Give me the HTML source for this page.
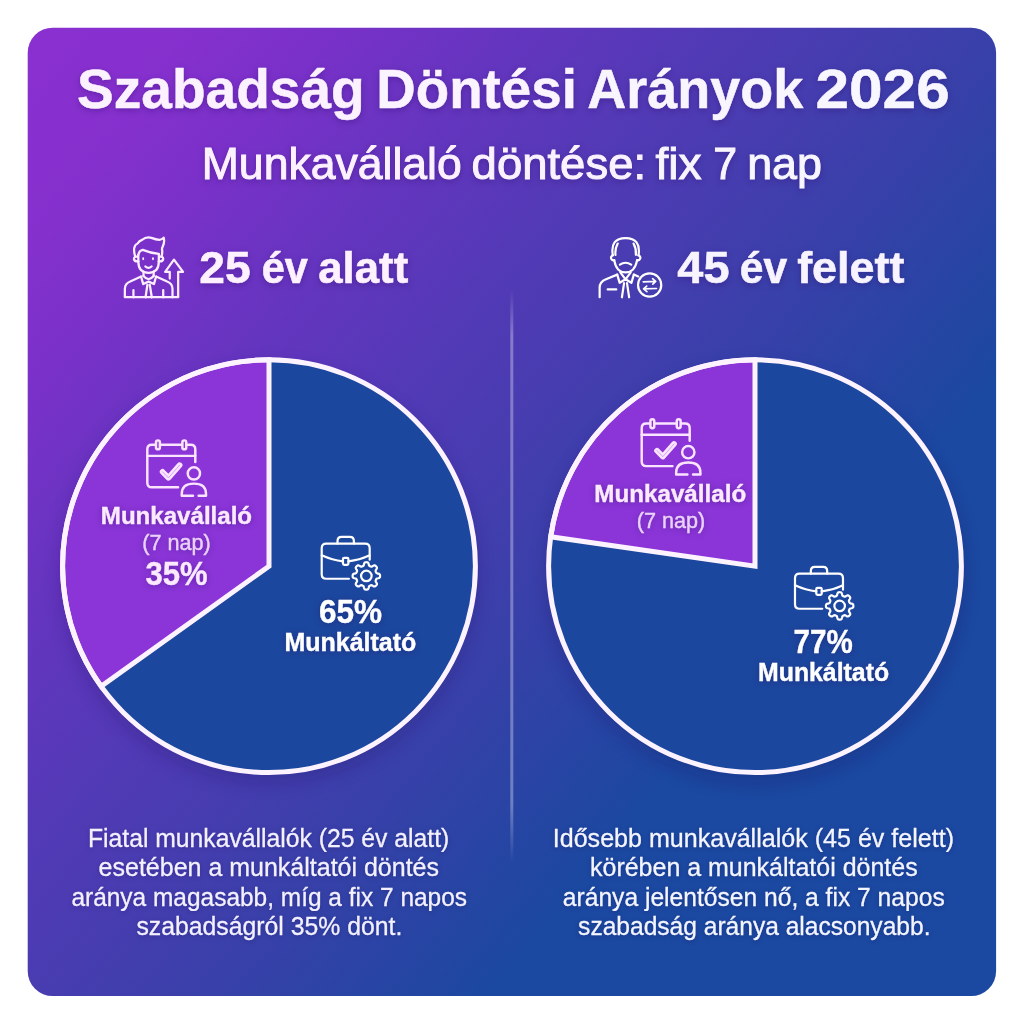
<!DOCTYPE html>
<html lang="hu">
<head>
<meta charset="utf-8">
<title>Szabadság Döntési Arányok 2026</title>
<style>
html,body{margin:0;padding:0;background:#ffffff;}
body{width:1024px;height:1024px;overflow:hidden;position:relative;}
svg{position:absolute;left:0;top:0;display:block;}
text{font-family:"Liberation Sans",Arial,sans-serif;}
.s1{filter:drop-shadow(0px 2px 3px rgba(45,10,110,0.38));}
.s2{filter:drop-shadow(0px 1px 3px rgba(30,10,90,0.35));}
.s3{filter:drop-shadow(0px 1px 2px rgba(20,10,90,0.30));}
</style>
</head>
<body>
<svg width="1024" height="1024" viewBox="0 0 1024 1024">
<defs>
<linearGradient id="bg" gradientUnits="userSpaceOnUse" x1="28" y1="28" x2="1081.4" y2="891.8">
<stop offset="0" stop-color="#8a30d0"/>
<stop offset="0.09" stop-color="#8630ce"/>
<stop offset="0.18" stop-color="#7831c8"/>
<stop offset="0.273" stop-color="#6535bf"/>
<stop offset="0.366" stop-color="#5539b7"/>
<stop offset="0.45" stop-color="#493cb1"/>
<stop offset="0.55" stop-color="#3940a9"/>
<stop offset="0.712" stop-color="#1b48a0"/>
<stop offset="1" stop-color="#1b48a0"/>
</linearGradient>
<linearGradient id="dv" x1="0" y1="0" x2="0" y2="1">
<stop offset="0" stop-color="#ffffff" stop-opacity="0"/>
<stop offset="0.08" stop-color="#ffffff" stop-opacity="0.32"/>
<stop offset="0.9" stop-color="#ffffff" stop-opacity="0.32"/>
<stop offset="1" stop-color="#ffffff" stop-opacity="0"/>
</linearGradient>
<filter id="psh" x="-20%" y="-20%" width="140%" height="140%">
<feGaussianBlur stdDeviation="9"/>
</filter>
</defs>
<rect x="27.7" y="27.7" width="968.4" height="968.4" rx="25" ry="25" fill="url(#bg)"/>
<rect x="510.3" y="290" width="3" height="572" fill="url(#dv)"/>

<circle cx="269" cy="574.2" r="208.4" fill="#1a1060" opacity="0.25" filter="url(#psh)"/>
<circle cx="269" cy="566.2" r="206.4" fill="#1c479e"/>
<path d="M269,566.2 L269,359.80000000000007 A206.4,206.4 0 0 0 101.18,686.35 Z" fill="#8b35d8" stroke="#fdf3ff" stroke-width="5" stroke-linejoin="miter"/>
<circle cx="269" cy="566.2" r="206.4" fill="none" stroke="#fdf3ff" stroke-width="5"/>
<circle cx="755" cy="574.2" r="208.4" fill="#1a1060" opacity="0.25" filter="url(#psh)"/>
<circle cx="755" cy="566.2" r="206.4" fill="#1c479e"/>
<path d="M755,566.2 L755,359.80000000000007 A206.4,206.4 0 0 0 550.71,536.76 Z" fill="#8b35d8" stroke="#fdf3ff" stroke-width="5" stroke-linejoin="miter"/>
<circle cx="755" cy="566.2" r="206.4" fill="none" stroke="#fdf3ff" stroke-width="5"/>
<g transform="translate(90,420) scale(0.17578)"><g fill="none" stroke="#fbe4ff" stroke-width="14" stroke-linecap="round" stroke-linejoin="round">
<path d="M501,383 L352,383 Q326,383 326,357 L326,167 Q326,141 352,141 L573,141 Q599,141 599,167 L599,239"/>
<path d="M326,204 L599,204"/>
<rect x="375.5" y="116" width="22" height="51" rx="11" fill="#8b35d8"/>
<rect x="525.5" y="116" width="22" height="51" rx="11" fill="#8b35d8"/>
<path d="M413,295 L446,329 L510,257" stroke-width="32"/>
<path d="M413,295 L446,329 L510,257" stroke="#8b35d8" stroke-width="2.5" stroke-opacity="0.85"/>
<circle cx="591" cy="304" r="35"/>
<path d="M586,431 L522,431 L522,420 Q522,362 591,362 Q660,362 660,420 L660,431 L618,431"/>
</g></g>
<g transform="translate(584.4,398.8) scale(0.17578)"><g fill="none" stroke="#fbe4ff" stroke-width="14" stroke-linecap="round" stroke-linejoin="round">
<path d="M501,383 L352,383 Q326,383 326,357 L326,167 Q326,141 352,141 L573,141 Q599,141 599,167 L599,239"/>
<path d="M326,204 L599,204"/>
<rect x="375.5" y="116" width="22" height="51" rx="11" fill="#8b35d8"/>
<rect x="525.5" y="116" width="22" height="51" rx="11" fill="#8b35d8"/>
<path d="M413,295 L446,329 L510,257" stroke-width="32"/>
<path d="M413,295 L446,329 L510,257" stroke="#8b35d8" stroke-width="2.5" stroke-opacity="0.85"/>
<circle cx="591" cy="304" r="35"/>
<path d="M586,431 L522,431 L522,420 Q522,362 591,362 Q660,362 660,420 L660,431 L618,431"/>
</g></g>
<g transform="translate(260,510) scale(0.17578)"><g fill="none" stroke="#ffffff" stroke-width="12.5" stroke-linecap="round" stroke-linejoin="round">
<path d="M506,391 L377,391 Q351,391 351,365 L351,217 Q351,191 377,191 L598,191 Q624,191 624,217 L624,283"/>
<path d="M441,191 L441,176 Q441,153 464,153 L511,153 Q534,153 534,176 L534,191"/>
<path d="M351,258 Q412,286 472,292"/>
<path d="M503,292 Q565,286 624,258"/>
<rect x="472" y="272" width="31" height="40" rx="7"/>
<path d="M605.0,297.0 L608.1,297.1 L611.1,297.6 L614.0,298.9 L616.6,302.0 L618.4,307.8 L619.7,313.7 L621.4,316.9 L623.4,318.5 L625.4,319.6 L627.6,320.5 L629.7,321.4 L632.0,322.1 L634.5,322.3 L638.0,321.2 L643.1,318.0 L648.4,315.2 L652.4,314.8 L655.4,316.0 L657.9,317.8 L660.2,319.8 L662.2,322.1 L664.0,324.6 L665.2,327.6 L664.8,331.6 L662.0,336.9 L658.8,342.0 L657.7,345.5 L657.9,348.0 L658.6,350.3 L659.5,352.4 L660.4,354.6 L661.5,356.6 L663.1,358.6 L666.3,360.3 L672.2,361.6 L678.0,363.4 L681.1,366.0 L682.4,368.9 L682.9,371.9 L683.0,375.0 L682.9,378.1 L682.4,381.1 L681.1,384.0 L678.0,386.6 L672.2,388.4 L666.3,389.7 L663.1,391.4 L661.5,393.4 L660.4,395.4 L659.5,397.6 L658.6,399.7 L657.9,402.0 L657.7,404.5 L658.8,408.0 L662.0,413.1 L664.8,418.4 L665.2,422.4 L664.0,425.4 L662.2,427.9 L660.2,430.2 L657.9,432.2 L655.4,434.0 L652.4,435.2 L648.4,434.8 L643.1,432.0 L638.0,428.8 L634.5,427.7 L632.0,427.9 L629.7,428.6 L627.6,429.5 L625.4,430.4 L623.4,431.5 L621.4,433.1 L619.7,436.3 L618.4,442.2 L616.6,448.0 L614.0,451.1 L611.1,452.4 L608.1,452.9 L605.0,453.0 L601.9,452.9 L598.9,452.4 L596.0,451.1 L593.4,448.0 L591.6,442.2 L590.3,436.3 L588.6,433.1 L586.6,431.5 L584.6,430.4 L582.4,429.5 L580.3,428.6 L578.0,427.9 L575.5,427.7 L572.0,428.8 L566.9,432.0 L561.6,434.8 L557.6,435.2 L554.6,434.0 L552.1,432.2 L549.8,430.2 L547.8,427.9 L546.0,425.4 L544.8,422.4 L545.2,418.4 L548.0,413.1 L551.2,408.0 L552.3,404.5 L552.1,402.0 L551.4,399.7 L550.5,397.6 L549.6,395.4 L548.5,393.4 L546.9,391.4 L543.7,389.7 L537.8,388.4 L532.0,386.6 L528.9,384.0 L527.6,381.1 L527.1,378.1 L527.0,375.0 L527.1,371.9 L527.6,368.9 L528.9,366.0 L532.0,363.4 L537.8,361.6 L543.7,360.3 L546.9,358.6 L548.5,356.6 L549.6,354.6 L550.5,352.4 L551.4,350.3 L552.1,348.0 L552.3,345.5 L551.2,342.0 L548.0,336.9 L545.2,331.6 L544.8,327.6 L546.0,324.6 L547.8,322.1 L549.8,319.8 L552.1,317.8 L554.6,316.0 L557.6,314.8 L561.6,315.2 L566.9,318.0 L572.0,321.2 L575.5,322.3 L578.0,322.1 L580.3,321.4 L582.4,320.5 L584.6,319.6 L586.6,318.5 L588.6,316.9 L590.3,313.7 L591.6,307.8 L593.4,302.0 L596.0,298.9 L598.9,297.6 L601.9,297.1 Z"/>
<circle cx="605" cy="375" r="30"/>
</g></g>
<g transform="translate(733.3,540) scale(0.17578)"><g fill="none" stroke="#ffffff" stroke-width="12.5" stroke-linecap="round" stroke-linejoin="round">
<path d="M506,391 L377,391 Q351,391 351,365 L351,217 Q351,191 377,191 L598,191 Q624,191 624,217 L624,283"/>
<path d="M441,191 L441,176 Q441,153 464,153 L511,153 Q534,153 534,176 L534,191"/>
<path d="M351,258 Q412,286 472,292"/>
<path d="M503,292 Q565,286 624,258"/>
<rect x="472" y="272" width="31" height="40" rx="7"/>
<path d="M605.0,297.0 L608.1,297.1 L611.1,297.6 L614.0,298.9 L616.6,302.0 L618.4,307.8 L619.7,313.7 L621.4,316.9 L623.4,318.5 L625.4,319.6 L627.6,320.5 L629.7,321.4 L632.0,322.1 L634.5,322.3 L638.0,321.2 L643.1,318.0 L648.4,315.2 L652.4,314.8 L655.4,316.0 L657.9,317.8 L660.2,319.8 L662.2,322.1 L664.0,324.6 L665.2,327.6 L664.8,331.6 L662.0,336.9 L658.8,342.0 L657.7,345.5 L657.9,348.0 L658.6,350.3 L659.5,352.4 L660.4,354.6 L661.5,356.6 L663.1,358.6 L666.3,360.3 L672.2,361.6 L678.0,363.4 L681.1,366.0 L682.4,368.9 L682.9,371.9 L683.0,375.0 L682.9,378.1 L682.4,381.1 L681.1,384.0 L678.0,386.6 L672.2,388.4 L666.3,389.7 L663.1,391.4 L661.5,393.4 L660.4,395.4 L659.5,397.6 L658.6,399.7 L657.9,402.0 L657.7,404.5 L658.8,408.0 L662.0,413.1 L664.8,418.4 L665.2,422.4 L664.0,425.4 L662.2,427.9 L660.2,430.2 L657.9,432.2 L655.4,434.0 L652.4,435.2 L648.4,434.8 L643.1,432.0 L638.0,428.8 L634.5,427.7 L632.0,427.9 L629.7,428.6 L627.6,429.5 L625.4,430.4 L623.4,431.5 L621.4,433.1 L619.7,436.3 L618.4,442.2 L616.6,448.0 L614.0,451.1 L611.1,452.4 L608.1,452.9 L605.0,453.0 L601.9,452.9 L598.9,452.4 L596.0,451.1 L593.4,448.0 L591.6,442.2 L590.3,436.3 L588.6,433.1 L586.6,431.5 L584.6,430.4 L582.4,429.5 L580.3,428.6 L578.0,427.9 L575.5,427.7 L572.0,428.8 L566.9,432.0 L561.6,434.8 L557.6,435.2 L554.6,434.0 L552.1,432.2 L549.8,430.2 L547.8,427.9 L546.0,425.4 L544.8,422.4 L545.2,418.4 L548.0,413.1 L551.2,408.0 L552.3,404.5 L552.1,402.0 L551.4,399.7 L550.5,397.6 L549.6,395.4 L548.5,393.4 L546.9,391.4 L543.7,389.7 L537.8,388.4 L532.0,386.6 L528.9,384.0 L527.6,381.1 L527.1,378.1 L527.0,375.0 L527.1,371.9 L527.6,368.9 L528.9,366.0 L532.0,363.4 L537.8,361.6 L543.7,360.3 L546.9,358.6 L548.5,356.6 L549.6,354.6 L550.5,352.4 L551.4,350.3 L552.1,348.0 L552.3,345.5 L551.2,342.0 L548.0,336.9 L545.2,331.6 L544.8,327.6 L546.0,324.6 L547.8,322.1 L549.8,319.8 L552.1,317.8 L554.6,316.0 L557.6,314.8 L561.6,315.2 L566.9,318.0 L572.0,321.2 L575.5,322.3 L578.0,322.1 L580.3,321.4 L582.4,320.5 L584.6,319.6 L586.6,318.5 L588.6,316.9 L590.3,313.7 L591.6,307.8 L593.4,302.0 L596.0,298.9 L598.9,297.6 L601.9,297.1 Z"/>
<circle cx="605" cy="375" r="30"/>
</g></g>
<g transform="translate(110,225) scale(0.09766)"><g fill="none" stroke="#fdeeff" stroke-width="23" stroke-linecap="round" stroke-linejoin="round">
<path d="M152,738 L698,738"/>
<path d="M152,738 L152,655 Q152,600 207,578 L318,528"/>
<path d="M472,528 L585,578 Q640,600 640,655 L640,740"/>
<path d="M240,740 L240,668 M545,740 L545,668"/>
<path d="M343,478 L343,522 M447,478 L447,522"/>
<path d="M318,528 L340,605 L395,580 L450,605 L472,528"/>
<path d="M343,522 Q395,585 447,522"/>
<path d="M383,612 L364,740 M407,612 L428,740"/>
<path d="M290,305 L290,375 Q290,490 395,490 Q500,490 500,375 L500,300"/>
<path d="M290,305 Q300,262 335,255 Q420,290 500,295"/>
<path d="M258,322 Q240,262 250,228 Q262,195 280,192 Q300,160 328,152 Q370,118 425,132 Q470,150 505,152 Q535,150 550,130 Q562,175 540,222 Q528,240 535,262 Q536,295 528,322"/>
<path d="M285,325 Q245,320 245,348 Q250,378 292,372"/>
<path d="M505,325 Q545,320 545,348 Q540,378 498,372"/>
<path d="M362,425 Q393,452 426,425"/>
<path d="M612,548 L612,480 L565,480 L655,355 L748,480 L698,480 L698,738"/>
</g>
<ellipse cx="340" cy="345" rx="10" ry="15" fill="#fdeeff"/>
<ellipse cx="440" cy="345" rx="10" ry="15" fill="#fdeeff"/></g>
<g transform="translate(585,225) scale(0.09766)"><g fill="none" stroke="#ffffff" stroke-width="22.5" stroke-linecap="round" stroke-linejoin="round">
<path d="M285,310 Q255,135 415,135 Q575,135 548,310"/>
<path d="M285,310 Q258,322 270,348 Q280,366 300,360"/>
<path d="M548,310 Q575,322 563,348 Q553,366 533,360"/>
<path d="M300,362 Q320,485 415,485 Q510,485 533,362"/>
<path d="M335,190 Q305,245 312,305"/>
<path d="M497,190 Q527,245 521,305"/>
<path d="M357,405 Q415,368 473,405"/>
<path d="M150,740 L150,640 Q150,580 215,555 L330,508"/>
<path d="M500,508 L545,527"/>
<path d="M330,508 L355,592 L415,556 L475,592 L500,508"/>
<path d="M362,485 L415,556 L468,485"/>
<path d="M400,596 L378,740 M430,596 L452,740"/>
<path d="M232,660 L320,660"/>
<circle cx="662" cy="614" r="119"/>
</g>
<g fill="none" stroke="#ffffff" stroke-width="17" stroke-linecap="round" stroke-linejoin="round">
<path d="M596,582 L722,578 M692,550 L724,578 L694,606"/>
<path d="M732,650 L600,654 M632,626 L600,654 L634,682"/>
</g></g>
<text class="s1" y="107.9" font-size="56" font-weight="bold" fill="#fcf2ff" stroke="#fcf2ff" stroke-width="0.5"><tspan x="77.0" textLength="287.71" lengthAdjust="spacingAndGlyphs" fill="#fcf2ff" stroke="#fcf2ff">Szabadság</tspan> <tspan x="376.29" textLength="200.62" lengthAdjust="spacingAndGlyphs" fill="#fbf3ff" stroke="#fbf3ff">Döntési</tspan> <tspan x="587.19" textLength="216.0" lengthAdjust="spacingAndGlyphs" fill="#f9f5ff" stroke="#f9f5ff">Arányok</tspan> <tspan x="815.58" textLength="134.09" lengthAdjust="spacingAndGlyphs" fill="#f8f6ff" stroke="#f8f6ff">2026</tspan></text>
<text class="s1" y="178.8" font-size="44.5" font-weight="normal" fill="#fcf1ff" stroke="#fcf1ff" stroke-width="1.0"><tspan x="201.78" textLength="259.98" lengthAdjust="spacingAndGlyphs" fill="#fcf1ff" stroke="#fcf1ff">Munkavállaló</tspan> <tspan x="471.62" textLength="174.47" lengthAdjust="spacingAndGlyphs" fill="#faf3ff" stroke="#faf3ff">döntése:</tspan> <tspan x="655.58" textLength="46.01" lengthAdjust="spacingAndGlyphs" fill="#f9f5ff" stroke="#f9f5ff">fix</tspan> <tspan x="713.26" textLength="23.84" lengthAdjust="spacingAndGlyphs" fill="#f9f5ff" stroke="#f9f5ff">7</tspan> <tspan x="747.16" textLength="74.9" lengthAdjust="spacingAndGlyphs" fill="#f8f6ff" stroke="#f8f6ff">nap</tspan></text>
<text class="s1" y="282.9" font-size="45" font-weight="bold" fill="#fdf0ff" stroke="#fdf0ff" stroke-width="0.6"><tspan x="199.35" textLength="51.33" lengthAdjust="spacingAndGlyphs" fill="#fdf0ff" stroke="#fdf0ff">25</tspan> <tspan x="261.64" textLength="46.08" lengthAdjust="spacingAndGlyphs" fill="#fdf0ff" stroke="#fdf0ff">év</tspan> <tspan x="318.28" textLength="89.95" lengthAdjust="spacingAndGlyphs" fill="#fdf0ff" stroke="#fdf0ff">alatt</tspan></text>
<text class="s1" y="282.9" font-size="45" font-weight="bold" fill="#f7f3ff" stroke="#f7f3ff" stroke-width="0.6"><tspan x="677.39" textLength="52.11" lengthAdjust="spacingAndGlyphs" fill="#f7f3ff" stroke="#f7f3ff">45</tspan> <tspan x="739.74" textLength="47.38" lengthAdjust="spacingAndGlyphs" fill="#f7f3ff" stroke="#f7f3ff">év</tspan> <tspan x="797.15" textLength="107.25" lengthAdjust="spacingAndGlyphs" fill="#f7f3ff" stroke="#f7f3ff">felett</tspan></text>
<text class="s2" x="100.83" y="523.8" font-size="24.6" font-weight="bold" fill="#fbe9ff" stroke="#fbe9ff" stroke-width="0.4" textLength="151.23" lengthAdjust="spacingAndGlyphs">Munkavállaló</text>
<text class="s2" x="142.19" y="549.7" font-size="21.7" font-weight="normal" fill="#ecd2fb" stroke="#ecd2fb" stroke-width="0.4" textLength="68.45" lengthAdjust="spacingAndGlyphs">(7 nap)</text>
<text class="s2" x="145.43" y="585.4" font-size="34" font-weight="bold" fill="#fbe9ff" stroke="#fbe9ff" stroke-width="0.4" textLength="62.12" lengthAdjust="spacingAndGlyphs">35%</text>
<text class="s2" x="318.99" y="623.3" font-size="34" font-weight="bold" fill="#ffffff" stroke="#ffffff" stroke-width="0.4" textLength="63.16" lengthAdjust="spacingAndGlyphs">65%</text>
<text class="s2" x="284.42" y="650.8" font-size="25" font-weight="bold" fill="#ffffff" stroke="#ffffff" stroke-width="0.4" textLength="131.89" lengthAdjust="spacingAndGlyphs">Munkáltató</text>
<text class="s2" x="594.29" y="502.4" font-size="24.6" font-weight="bold" fill="#fbe9ff" stroke="#fbe9ff" stroke-width="0.4" textLength="151.94" lengthAdjust="spacingAndGlyphs">Munkavállaló</text>
<text class="s2" x="636.69" y="528.3" font-size="21.7" font-weight="normal" fill="#ecd2fb" stroke="#ecd2fb" stroke-width="0.4" textLength="68.4" lengthAdjust="spacingAndGlyphs">(7 nap)</text>
<text class="s2" x="793.53" y="653.3" font-size="34" font-weight="bold" fill="#ffffff" stroke="#ffffff" stroke-width="0.4" textLength="59.19" lengthAdjust="spacingAndGlyphs">77%</text>
<text class="s2" x="758.07" y="680.8" font-size="25" font-weight="bold" fill="#ffffff" stroke="#ffffff" stroke-width="0.4" textLength="131.0" lengthAdjust="spacingAndGlyphs">Munkáltató</text>
<text class="s3" x="87.98" y="846.6" font-size="25.2" font-weight="normal" fill="#f4f1ff" stroke="#f4f1ff" stroke-width="0.3" textLength="361.28" lengthAdjust="spacingAndGlyphs">Fiatal munkavállalók (25 év alatt)</text>
<text class="s3" x="98.62" y="876.2" font-size="25.2" font-weight="normal" fill="#f4f1ff" stroke="#f4f1ff" stroke-width="0.3" textLength="340.41" lengthAdjust="spacingAndGlyphs">esetében a munkáltatói döntés</text>
<text class="s3" x="71.4" y="905.6" font-size="25.2" font-weight="normal" fill="#f4f1ff" stroke="#f4f1ff" stroke-width="0.3" textLength="395.67" lengthAdjust="spacingAndGlyphs">aránya magasabb, míg a fix 7 napos</text>
<text class="s3" x="136.41" y="935.1" font-size="25.2" font-weight="normal" fill="#f4f1ff" stroke="#f4f1ff" stroke-width="0.3" textLength="265.86" lengthAdjust="spacingAndGlyphs">szabadságról 35% dönt.</text>
<text class="s3" x="552.78" y="846.6" font-size="25.2" font-weight="normal" fill="#f4f6ff" stroke="#f4f6ff" stroke-width="0.3" textLength="401.25" lengthAdjust="spacingAndGlyphs">Idősebb munkavállalók (45 év felett)</text>
<text class="s3" x="590.06" y="876.2" font-size="25.2" font-weight="normal" fill="#f4f6ff" stroke="#f4f6ff" stroke-width="0.3" textLength="327.61" lengthAdjust="spacingAndGlyphs">körében a munkáltatói döntés</text>
<text class="s3" x="562.8" y="905.6" font-size="25.2" font-weight="normal" fill="#f4f6ff" stroke="#f4f6ff" stroke-width="0.3" textLength="381.92" lengthAdjust="spacingAndGlyphs">aránya jelentősen nő, a fix 7 napos</text>
<text class="s3" x="578.1" y="935.1" font-size="25.2" font-weight="normal" fill="#f4f6ff" stroke="#f4f6ff" stroke-width="0.3" textLength="352.38" lengthAdjust="spacingAndGlyphs">szabadság aránya alacsonyabb.</text>
</svg>
</body>
</html>
